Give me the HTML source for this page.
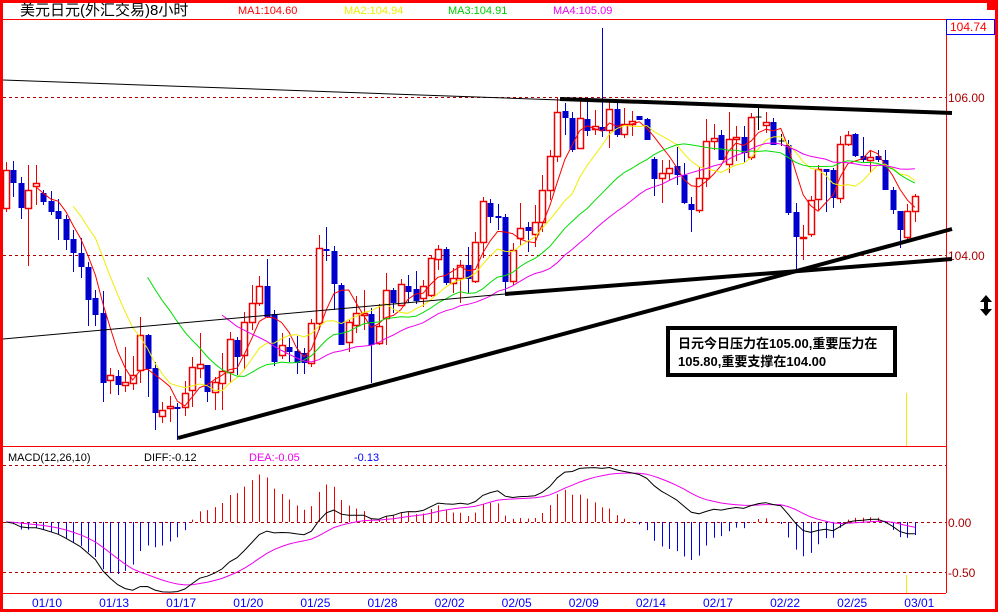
<!DOCTYPE html>
<html><head><meta charset="utf-8">
<style>
html,body{margin:0;padding:0;background:#fff;}
svg{display:block;font-family:"Liberation Sans","Noto Sans CJK SC",sans-serif;}
</style></head>
<body>
<svg id="s" width="998" height="612" viewBox="0 0 998 612" xmlns="http://www.w3.org/2000/svg">
<rect x="0" y="0" width="998" height="612" fill="#fff"/>
<rect x="1.5" y="1.5" width="995" height="609" fill="none" stroke="#f00" stroke-width="3"/>
<rect x="987" y="3" width="8" height="7" fill="#f00"/>
<line x1="3" y1="19.5" x2="995" y2="19.5" stroke="#f00"/>
<line x1="946.5" y1="19" x2="946.5" y2="593" stroke="#f00"/>
<line x1="3" y1="446.5" x2="946" y2="446.5" stroke="#f00"/>
<line x1="3" y1="593.5" x2="946" y2="593.5" stroke="#f00"/>
<rect x="946.5" y="19.5" width="48" height="15" fill="#fff" stroke="#00f"/>
<text x="950" y="31" font-size="12" fill="#f00">104.74</text>
<text x="20" y="15" font-size="15" fill="#000">美元日元(外汇交易)8小时</text>
<text x="238" y="14" font-size="11" fill="#f00">MA1:104.60</text>
<text x="344" y="14" font-size="11" fill="#ee0">MA2:104.94</text>
<text x="448" y="14" font-size="11" fill="#0c0">MA3:104.91</text>
<text x="553" y="14" font-size="11" fill="#e0e">MA4:105.09</text>
<g stroke="#a00" stroke-dasharray="3,3">
<line x1="3" y1="97.5" x2="946" y2="97.5"/>
<line x1="3" y1="255.5" x2="946" y2="255.5"/>
<line x1="3" y1="465.5" x2="946" y2="465.5"/>
<line x1="3" y1="522.5" x2="946" y2="522.5"/>
<line x1="3" y1="572.5" x2="946" y2="572.5"/>
</g>
<text x="948" y="102" font-size="12" fill="#a00">106.00</text>
<text x="948" y="260" font-size="12" fill="#a00">104.00</text>
<text x="948" y="527" font-size="12" fill="#a00">0.00</text>
<text x="948" y="577" font-size="12" fill="#a00">-0.50</text>
<text x="8" y="461" font-size="11" fill="#000">MACD(12,26,10)</text>
<text x="144" y="461" font-size="11" fill="#000">DIFF:-0.12</text>
<text x="249" y="461" font-size="11" fill="#e0e">DEA:-0.05</text>
<text x="354" y="461" font-size="11" fill="#00f">-0.13</text>
<g id="dates" font-size="12" fill="#00f" text-anchor="middle"></g>
<g id="macd"></g>
<g id="candles"></g>
<g id="mas" fill="none" stroke-width="1"></g>
<g stroke="#000" fill="none">
<line x1="3" y1="80" x2="560" y2="100" stroke-width="1"/>
<line x1="560" y1="99" x2="952" y2="113" stroke-width="4"/>
<line x1="3" y1="339" x2="505" y2="294" stroke-width="1"/>
<line x1="505" y1="294" x2="952" y2="259" stroke-width="4"/>
<line x1="178" y1="438" x2="952" y2="229" stroke-width="4"/>
</g>
<rect x="668" y="328" width="227" height="47" fill="#fff" stroke="#000" stroke-width="4"/>
<text x="678" y="348" font-size="13" font-weight="bold" fill="#000">日元今日压力在105.00,重要压力在</text>
<text x="678" y="366" font-size="13" font-weight="bold" fill="#000">105.80,重要支撑在104.00</text>
<line x1="906.5" y1="393" x2="906.5" y2="446" stroke="#ee0"/>
<line x1="906.5" y1="575" x2="906.5" y2="593" stroke="#ee0"/>
<polygon points="986,295 992,302 988,302 988,309 992,309 986,316 980,309 984,309 984,302 980,302" fill="#000"/>
</svg>
<script>
var NS="http://www.w3.org/2000/svg";
function el(p,t,a){var e=document.createElementNS(NS,t);for(var k in a)e.setAttribute(k,a[k]);p.appendChild(e);return e;}
var D=["01/10","01/13","01/17","01/20","01/25","01/28","02/02","02/05","02/09","02/14","02/17","02/22","02/25","03/01"];
var dg=document.getElementById("dates");
D.forEach(function(d,i){var t=el(dg,"text",{x:47+67.1*i,y:607});t.textContent=d;});
var C=[
[170,208,162,212,'R'],[170,183,161,197,'B'],[183,208,177,219,'B'],[190,208,165,266,'R'],[183,186,165,205,'R'],
[193,202,190,205,'B'],[201,212,191,215,'B'],[211,219,199,240,'B'],[219,240,215,250,'B'],[239,253,230,272,'B'],
[253,267,238,278,'B'],[267,300,262,326,'B'],[298,315,290,326,'B'],[313,383,291,402,'B'],[375,380,368,394,'R'],
[376,385,370,395,'B'],[382,385,347,392,'R'],[375,383,356,390,'R'],[335,370,317,383,'R'],[335,369,334,397,'B'],
[368,413,362,430,'B'],[410,416,402,423,'R'],[406,408,396,422,'R'],[407,408,403,440,'B'],[393,407,381,416,'R'],
[367,390,357,407,'R'],[364,368,333,378,'R'],[365,392,366,402,'B'],[382,392,377,410,'R'],[371,383,353,410,'R'],
[339,372,332,383,'R'],[340,357,337,375,'B'],[322,355,312,370,'R'],[303,322,285,330,'R'],[286,303,276,306,'R'],
[286,317,259,318,'B'],[314,362,310,366,'B'],[345,355,333,359,'R'],[347,352,338,362,'B'],[351,363,336,374,'B'],
[353,363,348,374,'B'],[323,363,319,367,'R'],[248,323,235,330,'R'],[249,251,227,261,'B'],[251,284,246,310,'B'],
[285,345,283,345,'B'],[322,342,320,352,'R'],[313,325,296,333,'R'],[313,315,290,330,'R'],[314,345,308,383,'B'],
[326,343,304,345,'R'],[290,318,273,345,'R'],[290,303,288,313,'B'],[284,305,279,305,'R'],[286,292,275,303,'B'],
[289,301,271,304,'B'],[286,298,280,307,'R'],[258,295,255,297,'R'],[249,259,245,270,'R'],[249,283,247,285,'B'],
[278,283,268,293,'R'],[265,278,260,303,'R'],[265,279,247,293,'B'],[242,281,232,283,'R'],[201,242,197,258,'R'],
[203,217,199,223,'B'],[216,218,204,230,'B'],[217,282,214,295,'B'],[250,281,243,285,'R'],[228,238,203,245,'R'],
[227,231,222,252,'B'],[222,234,205,247,'R'],[190,222,175,232,'R'],[156,190,150,200,'R'],[112,156,97,162,'R'],
[111,118,103,135,'B'],[118,150,112,152,'B'],[118,148,100,148,'R'],[119,131,100,136,'B'],[126,129,110,135,'R'],
[127,131,28,137,'B'],[109,130,100,148,'R'],[109,135,100,137,'B'],[124,134,108,138,'R'],[121,124,111,136,'R'],
[116,120,116,120,'B'],[119,140,118,140,'B'],[159,179,157,196,'B'],[173,178,160,203,'R'],[168,173,160,180,'R'],
[166,175,147,185,'B'],[175,203,163,204,'B'],[204,210,197,232,'B'],[178,210,167,213,'R'],[141,178,119,187,'R'],
[138,141,124,150,'R'],[135,160,130,160,'B'],[139,164,112,173,'R'],[137,139,126,161,'R'],[137,153,126,162,'B'],
[117,157,113,160,'R'],[117,118,107,130,'K'],[122,125,112,133,'R'],[122,145,118,145,'B'],[141,142,134,146,'K'],
[145,213,140,215,'B'],[212,237,203,270,'B'],[237,238,225,260,'R'],[200,234,196,237,'R'],[169,199,165,210,'R'],
[169,172,169,212,'B'],[170,198,168,208,'B'],[144,198,136,203,'R'],[135,144,131,146,'R'],[134,156,133,157,'B'],
[156,160,137,162,'B'],[157,160,150,172,'R'],[156,160,150,162,'B'],[160,190,150,190,'B'],[190,210,187,214,'B'],
[211,230,211,248,'B'],[211,237,204,241,'R'],[196,211,194,222,'R']];
var N=C.length;
function X(i){return 6+7.45*i;}
var cg=document.getElementById("candles");
var close=[];
C.forEach(function(c,i){
 var x=Math.round(X(i))+0.5,col=c[4]=='R'?'#e00':(c[4]=='B'?'#00c':'#000');
 close.push(c[4]=='B'?c[1]:c[0]);
 if(c[4]=='B'){
  el(cg,"line",{x1:x,y1:c[2],x2:x,y2:c[3],stroke:col});
  el(cg,"rect",{x:x-3,y:c[0],width:6,height:Math.max(c[1]-c[0],2),fill:col});
 }else if(c[4]=='R'){
  el(cg,"line",{x1:x,y1:c[2],x2:x,y2:c[0],stroke:col});
  el(cg,"line",{x1:x,y1:c[1],x2:x,y2:c[3],stroke:col});
  el(cg,"rect",{x:x-3,y:c[0]+0.5,width:6,height:Math.max(c[1]-c[0],1),fill:"#fff",stroke:col,"stroke-width":1.5});
 }else{
  el(cg,"line",{x1:x,y1:c[2],x2:x,y2:c[3],stroke:col});
  el(cg,"line",{x1:x-3,y1:c[0],x2:x+3,y2:c[0],stroke:col});
 }
});
var mg=document.getElementById("mas");
[[5,'#f00'],[10,'#ee0'],[20,'#0d0'],[30,'#e0e']].forEach(function(m){
 var p=[];
 for(var i=m[0]-1;i<N;i++){var s=0;for(var j=i-m[0]+1;j<=i;j++)s+=close[j];p.push(X(i).toFixed(1)+","+(s/m[0]).toFixed(1));}
 el(mg,"polyline",{points:p.join(" "),stroke:m[1]});
});
var pr=close.map(function(y){return 106-(y-97)/79;});
var e12=pr[0],e26=pr[0],dea=0,dif=[],de=[];
for(var i=0;i<N;i++){e12=e12*11/13+pr[i]*2/13;e26=e26*25/27+pr[i]*2/27;var d=e12-e26;dea=dea*9/11+d*2/11;dif.push(d);de.push(dea);}
var g=document.getElementById("macd");
function MY(v){return 522-v*100;}
var p1=[],p2=[];
for(var i=0;i<N;i++){
 var x=Math.round(X(i))+0.5,h=2*(dif[i]-de[i]);
 el(g,"line",{x1:x,y1:522,x2:x,y2:MY(h),stroke:h>=0?'#e00':'#00e'});
 p1.push(X(i).toFixed(1)+","+MY(dif[i]).toFixed(1));p2.push(X(i).toFixed(1)+","+MY(de[i]).toFixed(1));
}
el(g,"polyline",{points:p2.join(" "),stroke:"#e0e",fill:"none"});
el(g,"polyline",{points:p1.join(" "),stroke:"#000",fill:"none"});
</script>
</body></html>
